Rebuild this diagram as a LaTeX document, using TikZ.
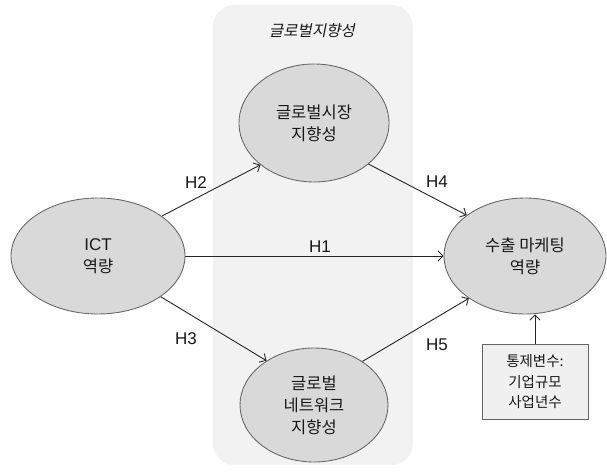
\documentclass[tikz,border=0pt]{standalone}
\usepackage{fontspec}
\setmainfont{Noto Sans CJK KR}
\newfontfamily\krit[FakeSlant=0.2]{Noto Sans CJK KR}
\newfontfamily\latin{Liberation Sans}
\usetikzlibrary{shapes.geometric,arrows.meta}
\definecolor{panelbg}{RGB}{242,242,242}
\definecolor{ellfill}{RGB}{217,217,217}
\definecolor{edgegray}{RGB}{100,100,100}
\definecolor{boxfill}{RGB}{240,240,240}
\definecolor{txt}{RGB}{25,25,25}
\tikzset{
  latent/.style={ellipse, fill=ellfill, draw=edgegray, line width=0.9pt,
    dash pattern=on 0.6pt off 0.3pt, inner sep=0pt, align=center,
    font=\fontsize{16.5}{22}\selectfont, text=txt},
  ctrlbox/.style={rectangle, fill=boxfill, draw=edgegray, line width=0.9pt,
    dash pattern=on 0.6pt off 0.3pt, inner sep=0pt, align=center,
    minimum width=106pt, minimum height=75pt,
    font=\fontsize{14.5}{20.5}\selectfont, text=txt},
  path/.style={draw=black!85, line width=0.9pt, -{Straight Barb[length=5pt,width=10pt,line width=0.9pt]}},
  hlabel/.style={font=\latin\fontsize{17}{18}\selectfont, text=txt, inner sep=0pt}
}
\begin{document}
\begin{tikzpicture}[x=1pt,y=-1pt]
\useasboundingbox (0,0) rectangle (607,473);
\fill[white] (0,0) rectangle (607,473);
\fill[panelbg, rounded corners=22pt] (213,5) rectangle (413,465);
\node[font=\krit\fontsize{15.5}{17}\selectfont, text=txt] (title) at (312,31) {글로벌지향성};
\node[latent, minimum width=174pt, minimum height=116pt] (ict) at (98,256) {{\latin\fontsize{17}{22}\selectfont ICT}\\역량};
\node[latent, minimum width=150pt, minimum height=118pt] (top) at (314,123) {글로벌시장\\지향성};
\node[latent, minimum width=148pt, minimum height=114pt] (bot) at (314,405) {글로벌\\네트워크\\지향성};
\node[latent, minimum width=162pt, minimum height=116pt] (right) at (525,256) {수출 마케팅\\역량};
\node[ctrlbox] (box) at (535,382) {통제변수:\\기업규모\\사업년수};
\draw[path] (ict.32) -- (top.218);
\draw[path] (ict.east) -- (right.west);
\draw[path] (ict.-33) -- (bot.137);
\draw[path] (top.-37) -- (right.145);
\draw[path] (bot.42) -- (right.217);
\draw[path] (box.north) -- (box.north |- right.south);
\node[hlabel] (h2) at (196,183) {H2};
\node[hlabel] (h1) at (320,247) {H1};
\node[hlabel] (h3) at (186,339) {H3};
\node[hlabel] (h4) at (437,182) {H4};
\node[hlabel] (h5) at (437,345) {H5};
\end{tikzpicture}
\end{document}
